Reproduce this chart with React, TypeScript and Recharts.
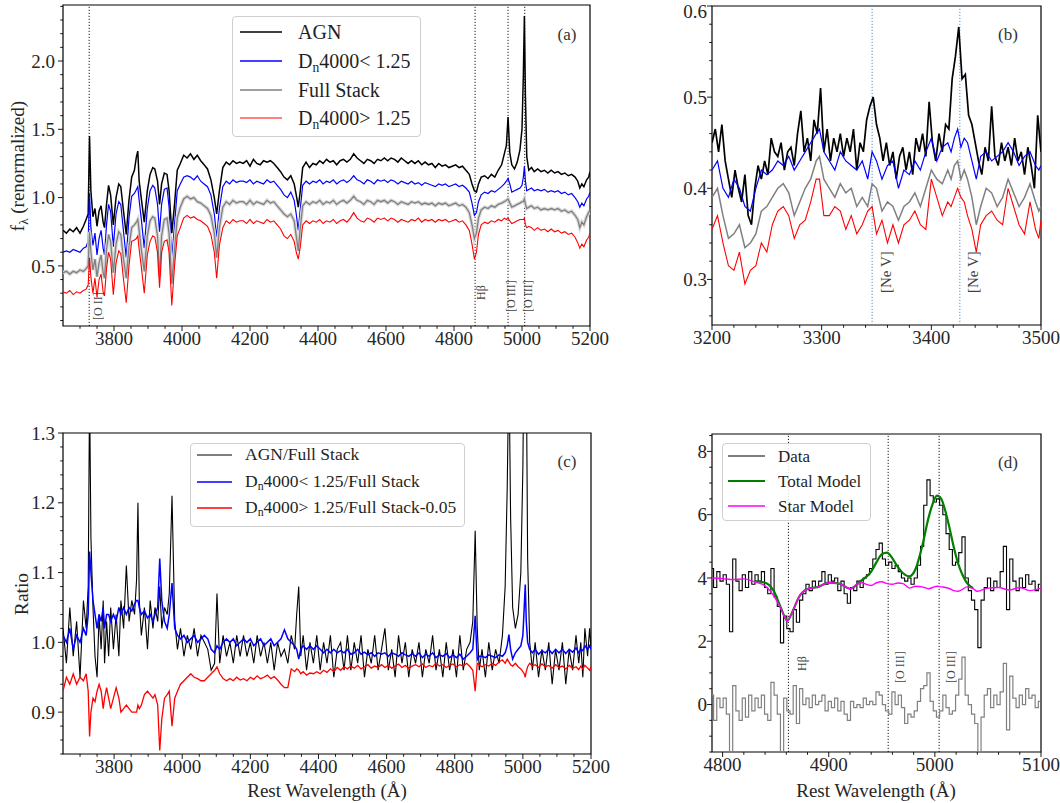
import React from 'react';
import { LineChart, Line, XAxis, YAxis, ReferenceLine, ReferenceArea, Legend } from 'recharts';

const FONT = '"Liberation Serif", "Times New Roman", serif';

// ---------- Panel (a) & (c) wavelength grid ----------
const waveA = [
  3650, 3660, 3670, 3680, 3690, 3700, 3710, 3718, 3724, 3728,
  3732, 3738, 3744, 3750, 3756, 3762, 3768, 3772, 3778, 3784,
  3790, 3798, 3806, 3814, 3820, 3828, 3836, 3844, 3852, 3860,
  3866, 3870, 3874, 3880, 3889, 3898, 3906, 3914, 3920, 3928,
  3934, 3940, 3948, 3956, 3962, 3970, 3978, 3986, 3995, 4005,
  4015, 4025, 4035, 4045, 4055, 4065, 4075, 4085, 4095, 4102,
  4110, 4120, 4130, 4140, 4150, 4160, 4170, 4180, 4190, 4200,
  4210, 4220, 4230, 4240, 4250, 4260, 4270, 4280, 4290, 4300,
  4310, 4320, 4330, 4336, 4342, 4348, 4355, 4365, 4375, 4385,
  4395, 4405, 4415, 4425, 4435, 4445, 4455, 4465, 4475, 4485,
  4495, 4505, 4515, 4525, 4535, 4545, 4555, 4565, 4575, 4585,
  4595, 4605, 4615, 4625, 4635, 4645, 4655, 4665, 4675, 4685,
  4695, 4705, 4715, 4725, 4735, 4745, 4755, 4765, 4775, 4785,
  4795, 4805, 4815, 4825, 4835, 4845, 4853, 4860, 4866, 4872,
  4880, 4890, 4900, 4910, 4920, 4930, 4940, 4948, 4954, 4959,
  4964, 4970, 4978, 4986, 4994, 5000, 5004, 5007, 5010, 5014,
  5020, 5028, 5036, 5046, 5056, 5066, 5076, 5086, 5096, 5106,
  5116, 5126, 5136, 5146, 5156, 5164, 5170, 5176, 5182, 5190,
  5196, 5200,
];

// (a) AGN stack
const agnA = [
  0.76, 0.74, 0.77, 0.75, 0.78, 0.74, 0.79, 0.84, 0.88, 1.45,
  1.05, 0.86, 0.92, 0.79, 0.90, 0.94, 0.82, 0.78, 0.95, 1.09,
  1.02, 0.80, 1.00, 1.10, 1.08, 0.90, 0.73, 0.98, 1.15, 1.20,
  1.30, 1.34, 1.12, 1.00, 0.82, 1.05, 1.17, 1.22, 1.21, 1.12,
  0.95, 1.10, 1.18, 1.17, 1.05, 0.74, 0.95, 1.20, 1.25, 1.31,
  1.29, 1.32, 1.28, 1.31, 1.27, 1.24, 1.21, 1.13, 1.00, 0.88,
  1.05, 1.22, 1.26, 1.24, 1.27, 1.25, 1.26, 1.25, 1.27, 1.23,
  1.28, 1.25, 1.24, 1.27, 1.26, 1.27, 1.25, 1.22, 1.19, 1.15,
  1.13, 1.16, 1.10, 1.02, 0.93, 1.05, 1.22, 1.26, 1.22, 1.25,
  1.24, 1.27, 1.25, 1.28, 1.26, 1.27, 1.24, 1.27, 1.28, 1.26,
  1.28, 1.32, 1.29, 1.27, 1.25, 1.28, 1.27, 1.25, 1.28, 1.27,
  1.29, 1.27, 1.29, 1.28, 1.26, 1.29, 1.27, 1.25, 1.27, 1.25,
  1.27, 1.24, 1.26, 1.24, 1.25, 1.22, 1.25, 1.23, 1.24, 1.22,
  1.23, 1.24, 1.22, 1.23, 1.20, 1.17, 1.10, 1.05, 1.04, 1.10,
  1.15, 1.16, 1.14, 1.17, 1.15, 1.20, 1.24, 1.32, 1.38, 1.59,
  1.33, 1.24, 1.21, 1.26, 1.35, 1.50, 1.90, 2.33, 1.75, 1.30,
  1.20, 1.22, 1.19, 1.21, 1.19, 1.20, 1.18, 1.20, 1.18, 1.19,
  1.17, 1.18, 1.16, 1.17, 1.15, 1.12, 1.07, 1.10, 1.08, 1.13,
  1.15, 1.19,
];

// (a) Dn4000 < 1.25
const lowA = [
  0.60, 0.61, 0.60, 0.62, 0.61, 0.60, 0.63, 0.64, 0.68, 1.03,
  0.78, 0.65, 0.74, 0.58, 0.70, 0.76, 0.63, 0.58, 0.80, 0.95,
  0.90, 0.64, 0.88, 0.97, 0.95, 0.75, 0.56, 0.85, 1.01, 1.03,
  1.06, 1.08, 0.98, 0.85, 0.63, 0.92, 1.05, 1.09, 1.07, 0.95,
  0.75, 0.95, 1.06, 1.07, 0.93, 0.55, 0.80, 1.05, 1.10, 1.15,
  1.16, 1.15, 1.13, 1.16, 1.12, 1.10, 1.08, 1.02, 0.88, 0.71,
  0.92, 1.08, 1.12, 1.10, 1.13, 1.11, 1.12, 1.12, 1.11, 1.13,
  1.10, 1.12, 1.11, 1.10, 1.13, 1.11, 1.12, 1.09, 1.06, 1.02,
  1.00, 1.04, 0.98, 0.88, 0.76, 0.92, 1.09, 1.12, 1.10, 1.12,
  1.11, 1.13, 1.10, 1.12, 1.11, 1.13, 1.10, 1.12, 1.13, 1.11,
  1.13, 1.16, 1.13, 1.12, 1.10, 1.13, 1.12, 1.10, 1.13, 1.12,
  1.13, 1.11, 1.13, 1.12, 1.10, 1.12, 1.11, 1.10, 1.12, 1.10,
  1.11, 1.09, 1.11, 1.10, 1.09, 1.08, 1.10, 1.09, 1.10, 1.08,
  1.09, 1.10, 1.08, 1.09, 1.07, 1.04, 0.96, 0.87, 0.89, 0.97,
  1.02, 1.04, 1.03, 1.05, 1.04, 1.06, 1.08, 1.10, 1.12, 1.14,
  1.10, 1.04, 1.05, 1.06, 1.07, 1.09, 1.15, 1.23, 1.12, 1.05,
  1.06, 1.07, 1.05, 1.06, 1.05, 1.06, 1.04, 1.05, 1.04, 1.05,
  1.03, 1.04, 1.02, 1.03, 1.00, 0.97, 0.93, 0.96, 0.94, 0.99,
  1.01, 1.04,
];

// (a) Full stack
const fullA = [
  0.45, 0.46, 0.44, 0.46, 0.45, 0.47, 0.46, 0.48, 0.50, 0.75,
  0.60, 0.47, 0.55, 0.42, 0.52, 0.58, 0.45, 0.41, 0.62, 0.73,
  0.68, 0.45, 0.66, 0.75, 0.73, 0.55, 0.41, 0.64, 0.78, 0.80,
  0.82, 0.84, 0.76, 0.63, 0.46, 0.72, 0.83, 0.86, 0.85, 0.72,
  0.42, 0.72, 0.84, 0.85, 0.74, 0.37, 0.62, 0.85, 0.93, 0.99,
  1.01, 0.99, 1.00, 0.97, 0.96, 0.94, 0.92, 0.87, 0.74, 0.56,
  0.78, 0.93, 0.97, 0.95, 0.98, 0.96, 0.97, 0.97, 0.95, 0.98,
  0.95, 0.97, 0.96, 0.95, 0.98, 0.96, 0.97, 0.94, 0.91, 0.88,
  0.86, 0.88, 0.83, 0.72, 0.61, 0.78, 0.94, 0.97, 0.95, 0.97,
  0.96, 0.98, 0.95, 0.97, 0.96, 0.98, 0.95, 0.97, 0.98, 0.96,
  0.98, 1.01, 0.98, 0.97, 0.95, 0.98, 0.97, 0.95, 0.98, 0.97,
  0.98, 0.96, 0.98, 0.97, 0.95, 0.97, 0.96, 0.95, 0.97, 0.96,
  0.97, 0.95, 0.96, 0.95, 0.96, 0.94, 0.96, 0.95, 0.96, 0.94,
  0.95, 0.96, 0.94, 0.95, 0.93, 0.89, 0.80, 0.70, 0.74, 0.85,
  0.91, 0.93, 0.92, 0.94, 0.93, 0.95, 0.96, 0.97, 0.98, 0.99,
  0.96, 0.93, 0.94, 0.95, 0.96, 0.97, 0.97, 0.99, 0.95, 0.92,
  0.93, 0.94, 0.92, 0.93, 0.91, 0.92, 0.91, 0.92, 0.91, 0.92,
  0.90, 0.91, 0.89, 0.90, 0.87, 0.84, 0.78, 0.82, 0.80, 0.86,
  0.89, 0.91,
];

// (a) Dn4000 > 1.25
const highA = [
  0.31, 0.30, 0.32, 0.29, 0.31, 0.30, 0.32, 0.33, 0.36, 0.56,
  0.42, 0.30, 0.41, 0.27, 0.40, 0.44, 0.31, 0.28, 0.48, 0.60,
  0.55, 0.29, 0.52, 0.61, 0.59, 0.40, 0.23, 0.50, 0.68, 0.69,
  0.70, 0.72, 0.62, 0.50, 0.30, 0.58, 0.68, 0.72, 0.71, 0.60,
  0.34, 0.60, 0.68, 0.69, 0.60, 0.21, 0.50, 0.72, 0.78, 0.85,
  0.87, 0.85, 0.86, 0.84, 0.83, 0.81, 0.79, 0.73, 0.60, 0.41,
  0.65, 0.78, 0.83, 0.81, 0.84, 0.82, 0.83, 0.83, 0.81, 0.84,
  0.81, 0.83, 0.82, 0.81, 0.84, 0.82, 0.83, 0.80, 0.77, 0.72,
  0.70, 0.73, 0.68, 0.60, 0.55, 0.64, 0.80, 0.83, 0.81, 0.83,
  0.82, 0.84, 0.81, 0.83, 0.82, 0.84, 0.81, 0.83, 0.84, 0.82,
  0.85, 0.89, 0.85, 0.83, 0.82, 0.85, 0.84, 0.82, 0.85, 0.84,
  0.85, 0.83, 0.85, 0.84, 0.82, 0.84, 0.83, 0.82, 0.84, 0.83,
  0.85, 0.82, 0.84, 0.83, 0.84, 0.82, 0.84, 0.83, 0.84, 0.82,
  0.83, 0.84, 0.82, 0.83, 0.80, 0.76, 0.66, 0.55, 0.60, 0.73,
  0.80, 0.82, 0.81, 0.83, 0.82, 0.84, 0.83, 0.85, 0.84, 0.85,
  0.83, 0.81, 0.82, 0.83, 0.84, 0.84, 0.84, 0.85, 0.80, 0.78,
  0.79, 0.78, 0.76, 0.78, 0.76, 0.77, 0.75, 0.77, 0.75, 0.76,
  0.74, 0.75, 0.73, 0.74, 0.71, 0.67, 0.63, 0.66, 0.64, 0.69,
  0.71, 0.74,
];

// (c) ratios on the same grid
const ratioAgnC = [
  1.02, 0.97, 1.05, 0.98, 1.03, 0.95, 1.06, 1.02, 1.08, 1.36,
  1.15, 1.05, 0.98, 0.95, 1.04, 0.99, 1.06, 0.97, 1.03, 0.98,
  1.05, 0.99, 1.04, 0.98, 1.06, 1.02, 1.11, 1.03, 1.06, 1.04,
  1.09, 1.20, 1.06, 1.01, 1.05, 0.99, 1.06, 1.02, 1.05, 1.03,
  1.08, 1.02, 1.05, 1.04, 1.07, 1.21, 1.03, 0.99, 1.02, 0.98,
  1.01, 0.99, 1.02, 0.98, 1.01, 1.00, 0.99, 0.96, 0.97, 1.07,
  0.97, 1.01, 0.98, 1.00, 0.97, 1.01, 0.98, 1.01, 0.98, 1.00,
  0.97, 1.01, 0.98, 1.00, 0.97, 1.00, 0.96, 1.00, 0.98, 0.99,
  0.97, 1.01, 0.99, 1.04, 1.08, 0.98, 1.01, 0.96, 1.00, 0.97,
  1.01, 0.96, 1.00, 0.97, 1.01, 0.95, 0.99, 1.00, 0.96, 1.01,
  0.96, 1.00, 0.97, 1.01, 0.95, 0.99, 0.97, 1.01, 0.96, 0.99,
  1.02, 0.96, 0.99, 0.95, 1.01, 0.97, 1.00, 0.95, 0.99, 0.97,
  1.00, 0.95, 0.99, 0.97, 1.01, 0.96, 0.99, 0.95, 1.00, 0.96,
  0.99, 0.95, 1.01, 0.96, 0.99, 1.00, 1.03, 1.16, 1.02, 0.96,
  0.99, 0.95, 1.00, 0.96, 0.99, 0.97, 1.01, 1.08, 1.22, 1.40,
  1.18, 1.05, 1.02, 1.04, 1.10, 1.25, 1.45, 1.60, 1.40, 1.12,
  1.00, 0.96, 1.00, 0.95, 0.99, 0.96, 1.00, 0.94, 0.99, 0.96,
  1.00, 0.94, 0.99, 0.96, 1.01, 0.97, 1.00, 0.95, 1.02, 0.98,
  1.02, 0.99,
];

const ratioLowC = [
  1.01, 1.00, 1.02, 0.99, 1.01, 1.00, 1.02, 1.01, 1.04, 1.13,
  1.10, 1.06, 1.04, 1.02, 1.04, 1.03, 1.05, 1.02, 1.04, 1.04,
  1.03, 1.04, 1.03, 1.05, 1.04, 1.05, 1.04, 1.05, 1.045, 1.055,
  1.06, 1.06, 1.05, 1.04, 1.045, 1.035, 1.04, 1.03, 1.04, 1.05,
  1.12, 1.06, 1.03, 1.02, 1.04, 1.085, 1.02, 1.01, 1.005, 1.01,
  1.00, 1.005, 1.01, 1.00, 1.005, 1.01, 1.005, 0.99, 0.985, 0.995,
  0.99, 1.00, 1.005, 1.00, 1.005, 0.995, 1.00, 1.005, 1.00, 1.005,
  0.995, 1.00, 1.005, 0.995, 1.00, 1.005, 0.995, 1.00, 1.005, 1.018,
  1.005, 1.00, 0.995, 0.99, 0.976, 0.99, 0.995, 0.99, 0.995, 0.99,
  0.995, 0.99, 0.985, 0.99, 0.985, 0.99, 0.985, 0.988, 0.985, 0.99,
  0.983, 0.985, 0.99, 0.983, 0.986, 0.982, 0.985, 0.98, 0.985, 0.983,
  0.985, 0.98, 0.985, 0.983, 0.98, 0.985, 0.982, 0.98, 0.984, 0.98,
  0.985, 0.978, 0.983, 0.98, 0.985, 0.978, 0.982, 0.98, 0.984, 0.978,
  0.982, 0.978, 0.983, 0.976, 0.98, 0.985, 0.99, 1.038, 0.975, 0.98,
  0.98, 0.978, 0.982, 0.98, 0.978, 0.982, 0.98, 0.985, 0.995, 1.011,
  0.99, 0.976, 0.985, 0.99, 0.995, 1.01, 1.05, 1.083, 1.03, 1.0,
  0.99, 0.985, 0.99, 0.983, 0.988, 0.985, 0.99, 0.984, 0.99, 0.985,
  0.99, 0.984, 0.99, 0.986, 0.992, 0.985, 0.99, 0.988, 0.995, 0.99,
  0.995, 0.99,
];

const ratioHighC = [
  0.93, 0.95, 0.94, 0.955, 0.94, 0.95, 0.945, 0.955, 0.93, 0.865,
  0.90, 0.92, 0.915, 0.93, 0.94, 0.93, 0.905, 0.92, 0.935, 0.92,
  0.905, 0.92, 0.935, 0.92, 0.90, 0.905, 0.91, 0.905, 0.90, 0.90,
  0.90, 0.91, 0.905, 0.91, 0.925, 0.93, 0.925, 0.92, 0.925, 0.91,
  0.845, 0.89, 0.92, 0.925, 0.93, 0.88, 0.92, 0.93, 0.94, 0.945,
  0.95, 0.955, 0.95, 0.948, 0.945, 0.945, 0.95, 0.955, 0.96, 0.965,
  0.955, 0.948, 0.945, 0.948, 0.945, 0.95, 0.946, 0.948, 0.945, 0.95,
  0.947, 0.952, 0.948, 0.95, 0.953, 0.948, 0.951, 0.946, 0.94, 0.935,
  0.935, 0.962, 0.958, 0.962, 0.96, 0.955, 0.958, 0.953, 0.956, 0.955,
  0.958, 0.955, 0.96, 0.957, 0.962, 0.958, 0.964, 0.96, 0.965, 0.962,
  0.966, 0.963, 0.967, 0.962, 0.965, 0.968, 0.963, 0.966, 0.964, 0.968,
  0.964, 0.967, 0.963, 0.966, 0.969, 0.964, 0.967, 0.963, 0.966, 0.968,
  0.965, 0.969, 0.964, 0.967, 0.965, 0.97, 0.966, 0.968, 0.964, 0.967,
  0.969, 0.965, 0.968, 0.966, 0.97, 0.965, 0.96, 0.93, 0.97, 0.968,
  0.965, 0.968, 0.966, 0.97, 0.967, 0.972, 0.975, 0.97, 0.976, 0.972,
  0.968, 0.966, 0.97, 0.965, 0.962, 0.958, 0.955, 0.95, 0.958, 0.965,
  0.97, 0.966, 0.968, 0.964, 0.969, 0.965, 0.967, 0.963, 0.968, 0.964,
  0.966, 0.962, 0.967, 0.963, 0.965, 0.961, 0.966, 0.962, 0.967, 0.963,
  0.96, 0.965,
];

// ---------- Panel (b) ----------
const waveB = [
  3200, 3205, 3210, 3215, 3220, 3225, 3230, 3235, 3240, 3245,
  3250, 3255, 3260, 3265, 3270, 3275, 3280, 3285, 3290, 3295,
  3298, 3302, 3307, 3312, 3317, 3322, 3327, 3332, 3337, 3342,
  3346, 3350, 3355, 3360, 3365, 3370, 3375, 3380, 3385, 3390,
  3395, 3400, 3405, 3410, 3415, 3418, 3421, 3424, 3427, 3430,
  3433, 3437, 3441, 3445, 3450, 3455, 3460, 3465, 3470, 3475,
  3480, 3485, 3490, 3495, 3498, 3500,
];
const lowB = [
  0.42, 0.43, 0.40, 0.39, 0.41, 0.40, 0.38, 0.375, 0.40, 0.42,
  0.415, 0.42, 0.43, 0.425, 0.435, 0.42, 0.43, 0.44, 0.45, 0.46,
  0.465, 0.44, 0.43, 0.42, 0.44, 0.43, 0.425, 0.42, 0.43, 0.41,
  0.44, 0.43, 0.41, 0.425, 0.43, 0.40, 0.42, 0.415, 0.43, 0.42,
  0.44, 0.455, 0.43, 0.445, 0.45, 0.44, 0.455, 0.465, 0.445, 0.455,
  0.45, 0.43, 0.41, 0.435, 0.44, 0.43, 0.435, 0.44, 0.45, 0.44,
  0.425, 0.435, 0.44, 0.425, 0.42, 0.425,
];
const fullB = [
  0.39, 0.40, 0.37, 0.345, 0.35, 0.36, 0.335, 0.34, 0.35, 0.375,
  0.38, 0.39, 0.40, 0.405, 0.395, 0.37, 0.385, 0.40, 0.41, 0.43,
  0.435, 0.41, 0.40, 0.39, 0.405, 0.395, 0.40, 0.38, 0.39, 0.38,
  0.405, 0.40, 0.375, 0.385, 0.38, 0.365, 0.38, 0.385, 0.395, 0.38,
  0.40, 0.42, 0.41, 0.405, 0.42, 0.41, 0.425, 0.43, 0.41, 0.42,
  0.41, 0.39, 0.36, 0.38, 0.40, 0.395, 0.38, 0.39, 0.41, 0.395,
  0.38, 0.39, 0.405, 0.385, 0.375, 0.38,
];
const highB = [
  0.355, 0.37, 0.34, 0.315, 0.31, 0.33, 0.295, 0.31, 0.315, 0.34,
  0.33, 0.36, 0.375, 0.38, 0.37, 0.345, 0.36, 0.365, 0.385, 0.41,
  0.41, 0.37, 0.37, 0.38, 0.375, 0.355, 0.37, 0.35, 0.36, 0.375,
  0.38, 0.35, 0.365, 0.34, 0.36, 0.34, 0.36, 0.365, 0.375, 0.36,
  0.355, 0.41, 0.39, 0.37, 0.385, 0.38, 0.39, 0.40, 0.39, 0.385,
  0.37, 0.355, 0.33, 0.36, 0.37, 0.375, 0.365, 0.36, 0.40, 0.38,
  0.36, 0.35, 0.385, 0.355, 0.345, 0.365,
];
// AGN in (b) is noisier: finer sampling
const waveAgnB = [
  3200, 3203, 3206, 3209, 3212, 3215, 3218, 3221, 3224, 3227,
  3230, 3233, 3236, 3239, 3242, 3245, 3248, 3251, 3254, 3257,
  3260, 3263, 3266, 3269, 3272, 3275, 3278, 3281, 3284, 3287,
  3290, 3293, 3296, 3299, 3302, 3305, 3308, 3311, 3314, 3317,
  3320, 3323, 3326, 3329, 3332, 3335, 3338, 3341, 3344, 3347,
  3350, 3353, 3356, 3359, 3362, 3365, 3368, 3371, 3374, 3377,
  3380, 3383, 3386, 3389, 3392, 3395, 3398, 3401, 3404, 3407,
  3410, 3413, 3416, 3419, 3422, 3425, 3428, 3431, 3434, 3437,
  3440, 3443, 3446, 3449, 3452, 3455, 3458, 3461, 3464, 3467,
  3470, 3473, 3476, 3479, 3482, 3485, 3488, 3491, 3494, 3497,
  3500,
];
const agnB = [
  0.45, 0.465, 0.44, 0.47, 0.43, 0.41, 0.39, 0.42, 0.40, 0.385,
  0.415, 0.37, 0.36, 0.40, 0.425, 0.41, 0.43, 0.415, 0.455, 0.44,
  0.435, 0.45, 0.42, 0.44, 0.445, 0.425, 0.46, 0.485, 0.44, 0.455,
  0.43, 0.475, 0.46, 0.51, 0.44, 0.465, 0.43, 0.455, 0.44, 0.46,
  0.435, 0.455, 0.44, 0.465, 0.42, 0.45, 0.44, 0.475, 0.49, 0.50,
  0.47, 0.455, 0.43, 0.45, 0.425, 0.44, 0.41, 0.435, 0.445, 0.42,
  0.44, 0.415, 0.455, 0.44, 0.46, 0.435, 0.495, 0.45, 0.43, 0.46,
  0.44, 0.47, 0.465, 0.52, 0.545, 0.577, 0.52, 0.525, 0.48, 0.47,
  0.45, 0.43, 0.415, 0.445, 0.43, 0.49, 0.435, 0.425, 0.45, 0.43,
  0.445, 0.425, 0.455, 0.43, 0.44, 0.415, 0.445, 0.425, 0.40, 0.48,
  0.44,
];

// ---------- Panel (d) ----------
const waveD = [
  4790, 4793, 4796, 4799, 4802, 4805, 4808, 4811, 4814, 4817,
  4820, 4823, 4826, 4829, 4832, 4835, 4838, 4841, 4844, 4847,
  4850, 4853, 4856, 4859, 4862, 4865, 4868, 4871, 4874, 4877,
  4880, 4883, 4886, 4889, 4892, 4895, 4898, 4901, 4904, 4907,
  4910, 4913, 4916, 4919, 4922, 4925, 4928, 4931, 4934, 4937,
  4940, 4943, 4946, 4949, 4952, 4955, 4958, 4961, 4964, 4967,
  4970, 4973, 4976, 4979, 4982, 4985, 4988, 4991, 4994, 4997,
  5000, 5003, 5006, 5009, 5012, 5015, 5018, 5021, 5024, 5027,
  5030, 5033, 5036, 5039, 5042, 5045, 5048, 5051, 5054, 5057,
  5060, 5063, 5066, 5069, 5072, 5075, 5078, 5081, 5084, 5087,
  5090, 5093, 5096, 5099,
];
const fluxD = [
  4.3, 3.7, 4.2, 3.9, 4.1, 3.8, 2.3, 4.6, 3.9, 3.6,
  4.1, 3.7, 4.2, 3.8, 4.1, 3.9, 4.2, 3.7, 3.5, 4.3,
  3.4, 3.1, 1.95, 2.8, 2.4, 2.3, 3.0, 2.6, 3.3, 3.5,
  3.8, 3.6, 3.9, 3.7, 3.9, 4.2, 3.8, 4.1, 3.9, 4.0,
  3.6, 3.9, 3.5, 3.2, 3.7, 3.6, 3.9, 3.7, 4.0, 4.1,
  4.3, 4.6, 4.9, 5.1, 4.6, 4.4, 4.5, 4.3, 4.4, 4.2,
  4.0, 3.9, 4.0, 3.8, 4.0, 4.4, 5.0, 6.3, 7.1, 6.6,
  6.4, 6.5, 6.3, 6.0, 5.4, 4.9, 4.4, 4.5, 4.8, 5.3,
  4.0, 3.6, 3.3, 3.0, 1.8, 3.3, 3.7, 4.0, 3.6, 3.9,
  3.7, 4.2, 5.0, 3.0, 4.6, 3.9, 3.6, 4.0, 3.7, 4.1,
  3.8, 3.9, 3.6, 3.8,
];
const residD = [
  0.3, -0.5, 0.2, -0.1, 0.2, -0.3, -1.6, 0.6, -0.2, -0.5,
  0.2, -0.4, 0.3, -0.2, 0.2, -0.1, 0.3, -0.3, -0.5, 0.7,
  0.3, -0.3, -1.6, 0.2, -0.2, -0.3, 0.6, -0.6, 0.5, 0.0,
  0.2, -0.1, 0.3, 0.0, 0.1, 0.3, -0.2, 0.1, -0.1, 0.2,
  -0.2, 0.1, -0.3, -0.5, 0.1, -0.1, 0.0, -0.1, 0.2, 0.0,
  0.1, 0.0, 0.4, 0.3, 0.0, -0.2, -0.3, 0.4, 0.0, 0.3,
  -0.1, -0.6, -0.3, -0.4, -0.2, 0.1, 0.5, 0.6, 1.0, 0.1,
  -0.2, -0.4, -0.2, 0.3, -0.1, -0.3, -0.2, 0.3, 0.8, 1.5,
  0.3, 0.0, -0.3, -0.6, -1.6, -0.4, 0.3, 0.5, -0.1, 0.3,
  0.0, 0.4, 1.3, -0.8, 0.9, 0.2, -0.1, 0.3, 0.0, 0.5,
  0.2, 0.3, -0.1, 0.1,
];
const waveModelD = [
  4790, 4800, 4810, 4820, 4830, 4840, 4848, 4855, 4861, 4866,
  4872, 4880, 4890, 4900, 4910, 4920, 4930, 4940, 4945, 4950,
  4955, 4960, 4965, 4970, 4976, 4982, 4988, 4994, 4998, 5002,
  5006, 5010, 5014, 5018, 5022, 5026, 5030, 5036, 5040, 5050,
  5060, 5070, 5080, 5090, 5100,
];
const totalD = [
  null, null, null, null, 3.9, 3.85, 3.6, 3.05, 2.65, 2.95,
  3.4, 3.65, 3.72, 3.85, 3.82, 3.66, 3.9, 4.2, 4.5, 4.75,
  4.8, 4.62, 4.35, 4.15, 4.05, 4.3, 5.0, 5.9, 6.35, 6.6,
  6.5, 6.1, 5.55, 4.95, 4.45, 4.1, 3.85, 3.68, null, null,
  null, null, null, null, null,
];
const starD = [
  4.0, 3.98, 3.95, 3.97, 3.88, 3.75, 3.45, 3.02, 2.65, 2.95,
  3.4, 3.65, 3.72, 3.85, 3.82, 3.66, 3.85, 3.76, 3.85, 3.88,
  3.82, 3.8, 3.84, 3.82, 3.68, 3.74, 3.72, 3.66, 3.7, 3.74,
  3.72, 3.7, 3.66, 3.6, 3.58, 3.64, 3.72, 3.66, 3.58, 3.68,
  3.7, 3.62, 3.7, 3.6, 3.68,
];

// ---------- Ticks ----------
const xTicksA = [3700, 3750, 3800, 3850, 3900, 3950, 4000, 4050, 4100, 4150, 4200, 4250, 4300, 4350, 4400, 4450, 4500, 4550, 4600, 4650, 4700, 4750, 4800, 4850, 4900, 4950, 5000, 5050, 5100, 5150, 5200];
const xMajorA = [3800, 4000, 4200, 4400, 4600, 4800, 5000, 5200];
const yTicksA = [0.1, 0.2, 0.3, 0.4, 0.5, 0.6, 0.7, 0.8, 0.9, 1.0, 1.1, 1.2, 1.3, 1.4, 1.5, 1.6, 1.7, 1.8, 1.9, 2.0, 2.1, 2.2, 2.3, 2.4];
const yMajorA = [0.5, 1.0, 1.5, 2.0];
const xTicksB = [3200, 3220, 3240, 3260, 3280, 3300, 3320, 3340, 3360, 3380, 3400, 3420, 3440, 3460, 3480, 3500];
const xMajorB = [3200, 3300, 3400, 3500];
const yTicksB = [0.26, 0.28, 0.3, 0.32, 0.34, 0.36, 0.38, 0.4, 0.42, 0.44, 0.46, 0.48, 0.5, 0.52, 0.54, 0.56, 0.58, 0.6];
const yMajorB = [0.3, 0.4, 0.5, 0.6];
const yTicksC = [0.84, 0.86, 0.88, 0.9, 0.92, 0.94, 0.96, 0.98, 1.0, 1.02, 1.04, 1.06, 1.08, 1.1, 1.12, 1.14, 1.16, 1.18, 1.2, 1.22, 1.24, 1.26, 1.28, 1.3];
const yMajorC = [0.9, 1.0, 1.1, 1.2, 1.3];
const xTicksD = [4800, 4820, 4840, 4860, 4880, 4900, 4920, 4940, 4960, 4980, 5000, 5020, 5040, 5060, 5080, 5100];
const xMajorD = [4800, 4900, 5000, 5100];
const yTicksD = [-1.5, -1, -0.5, 0, 0.5, 1, 1.5, 2, 2.5, 3, 3.5, 4, 4.5, 5, 5.5, 6, 6.5, 7, 7.5, 8, 8.5];
const yMajorD = [0, 2, 4, 6, 8];

// ---------- chart tables ----------
const tableA = waveA.map((w, i) => ({ w, agn: agnA[i], low: lowA[i], full: fullA[i], high: highA[i], rAgn: ratioAgnC[i], rLow: ratioLowC[i], rHigh: ratioHighC[i] }));
const tableB = waveB.map((w, i) => ({ w, low: lowB[i], full: fullB[i], high: highB[i] }));
const tableAgnB = waveAgnB.map((w, i) => ({ w, agn: agnB[i] }));
const tableD = waveD.map((w, i) => ({ w, flux: fluxD[i], resid: residD[i] }));
const tableModelD = waveModelD.map((w, i) => ({ w, total: totalD[i], star: starD[i] }));

const isMajor = (majors: number[], v: number) => majors.some((m) => Math.abs(m - v) < 1e-6);

function makeYTick(majors: number[], fmt: (v: number) => string, gap: number, minTextY = -1000) {
  return (props: any) => {
    const { x, y, payload } = props;
    const v = Number(payload.value);
    const maj = isMajor(majors, v);
    return (
      <g>
        <line x1={x} x2={x - (maj ? 5 : 2.8)} y1={y} y2={y} stroke="#000" strokeWidth={0.9} />
        {maj ? (
          <text x={x - gap} y={Math.max(y, minTextY)} dy="0.35em" textAnchor="end" fontSize={19} fontFamily={FONT} fill="#262626">{fmt(v)}</text>
        ) : null}
      </g>
    );
  };
}
function makeXTick(majors: number[]) {
  return (props: any) => {
    const { x, y, payload } = props;
    const v = Number(payload.value);
    const maj = isMajor(majors, v);
    return (
      <g>
        <line x1={x} x2={x} y1={y} y2={y + (maj ? 5 : 2.8)} stroke="#000" strokeWidth={0.9} />
        {maj ? (
          <text x={x} y={y + 6} dy="0.71em" textAnchor="middle" fontSize={19} fontFamily={FONT} fill="#262626">{String(v)}</text>
        ) : null}
      </g>
    );
  };
}

const Dn = () => (
  <>D<span style={{ fontSize: '0.68em', position: 'relative', top: '0.28em' }}>n</span></>
);

type LegItem = { color: string; width: number; label: React.ReactNode };
function LegendBox(p: { items: LegItem[]; w: number; h: number; rows: number[]; x1: number; x2: number; tx: number; fs: number }) {
  return (
    <div style={{ position: 'relative', width: p.w, height: p.h, boxSizing: 'border-box', border: '1px solid #cfcfcf', borderRadius: 4, background: 'rgba(255,255,255,0.85)', fontFamily: FONT, color: '#1f1f1f' }}>
      <svg width={p.w} height={p.h} style={{ position: 'absolute', left: -1, top: -1 }}>
        {p.items.map((it, i) => (
          <line key={i} x1={p.x1} x2={p.x2} y1={p.rows[i]} y2={p.rows[i]} stroke={it.color} strokeWidth={it.width} />
        ))}
      </svg>
      {p.items.map((it, i) => (
        <div key={i} style={{ position: 'absolute', left: p.tx - 1, top: p.rows[i] - 1, transform: 'translateY(-50%)', fontSize: p.fs, lineHeight: 1, whiteSpace: 'nowrap' }}>{it.label}</div>
      ))}
    </div>
  );
}

const legendA: LegItem[] = [
  { color: '#000000', width: 1.5, label: 'AGN' },
  { color: '#0000ff', width: 1.3, label: <><Dn />4000&lt; 1.25</> },
  { color: '#808080', width: 1.5, label: 'Full Stack' },
  { color: '#ff0000', width: 1.2, label: <><Dn />4000&gt; 1.25</> },
];
const legendC: LegItem[] = [
  { color: '#000000', width: 1.2, label: 'AGN/Full Stack' },
  { color: '#0000ff', width: 1.5, label: <><Dn />4000&lt; 1.25/Full Stack</> },
  { color: '#ff0000', width: 1.3, label: <><Dn />4000&gt; 1.25/Full Stack-0.05</> },
];
const legendD: LegItem[] = [
  { color: '#000000', width: 1.1, label: 'Data' },
  { color: '#008000', width: 2.2, label: 'Total Model' },
  { color: '#ff00ff', width: 1.4, label: 'Star Model' },
];

const DOT = '1.2 1.8';

export default function App() {
  const axisCommon = { tickSize: 0, tickMargin: 0, axisLine: false, tickLine: false, interval: 0 as const, allowDataOverflow: true, type: 'number' as const };
  return (
    <div style={{ position: 'absolute', left: 0, top: 0, width: 1060, height: 803, background: '#fff', fontFamily: FONT }}>
      {/* Panel (a) */}
      <div style={{ position: 'absolute', left: 0, top: 0 }}>
        <LineChart width={630} height={400} data={tableA} margin={{ top: 5, right: 40, left: 13, bottom: 44 }}>
          <XAxis dataKey="w" {...axisCommon} domain={[3650, 5200]} ticks={xTicksA} tick={makeXTick(xMajorA)} height={30} />
          <YAxis {...axisCommon} domain={[0.06, 2.41]} ticks={yTicksA} tick={makeYTick(yMajorA, (v) => v.toFixed(1), 8)} width={50} />
          <ReferenceLine x={3727} stroke="#000" strokeWidth={0.9} strokeDasharray={DOT} />
          <ReferenceLine x={4862} stroke="#000" strokeWidth={0.9} strokeDasharray={DOT} />
          <ReferenceLine x={4959} stroke="#000" strokeWidth={0.9} strokeDasharray={DOT} />
          <ReferenceLine x={5008} stroke="#000" strokeWidth={0.9} strokeDasharray={DOT} />
          <Line dataKey="agn" stroke="#000000" strokeWidth={1.5} dot={false} isAnimationActive={false} type="linear" />
          <Line dataKey="low" stroke="#0000ff" strokeWidth={1.2} dot={false} isAnimationActive={false} type="linear" />
          <Line dataKey="full" stroke="#d9d9d9" strokeWidth={3.6} dot={false} isAnimationActive={false} type="linear" legendType="none" />
          <Line dataKey="full" stroke="#808080" strokeWidth={1.3} dot={false} isAnimationActive={false} type="linear" />
          <Line dataKey="high" stroke="#ff0000" strokeWidth={1.1} dot={false} isAnimationActive={false} type="linear" />
          <ReferenceArea x1={3650} x2={5200} y1={0.06} y2={2.41} fill="none" stroke="#000" strokeWidth={1.2} />
          <Legend layout="horizontal" verticalAlign="middle" align="center" wrapperStyle={{ left: 232, top: 16, width: 189, height: 121 }}
            content={() => <LegendBox items={legendA} w={189} h={121} rows={[16, 45, 74, 102]} x1={8} x2={50} tx={66} fs={20} />} />
        </LineChart>
      </div>

      {/* Panel (b) */}
      <div style={{ position: 'absolute', left: 640, top: 0 }}>
        <LineChart width={420} height={400} data={tableB} margin={{ top: 6, right: 19, left: 22, bottom: 45 }}>
          <XAxis dataKey="w" {...axisCommon} domain={[3200, 3500]} ticks={xTicksB} tick={makeXTick(xMajorB)} height={30} />
          <YAxis {...axisCommon} domain={[0.25, 0.6]} ticks={yTicksB} tick={makeYTick(yMajorB, (v) => v.toFixed(1), 5, 11)} width={50} />
          <ReferenceLine x={3346} stroke="#5b8fc9" strokeWidth={1} strokeDasharray={DOT} />
          <ReferenceLine x={3426} stroke="#5b8fc9" strokeWidth={1} strokeDasharray={DOT} />
          <Line data={tableAgnB} dataKey="agn" stroke="#000000" strokeWidth={1.7} dot={false} isAnimationActive={false} type="linear" />
          <Line dataKey="low" stroke="#0000ff" strokeWidth={1.2} dot={false} isAnimationActive={false} type="linear" />
          <Line dataKey="full" stroke="#808080" strokeWidth={1.5} dot={false} isAnimationActive={false} type="linear" />
          <Line dataKey="high" stroke="#ff0000" strokeWidth={1.1} dot={false} isAnimationActive={false} type="linear" />
          <ReferenceArea x1={3200} x2={3500} y1={0.25} y2={0.6} fill="none" stroke="#000" strokeWidth={1.2} />
        </LineChart>
      </div>

      {/* Panel (c) */}
      <div style={{ position: 'absolute', left: 0, top: 400 }}>
        <LineChart width={630} height={403} data={tableA} margin={{ top: 33, right: 39, left: 13, bottom: 19 }}>
          <XAxis dataKey="w" {...axisCommon} domain={[3650, 5200]} ticks={xTicksA} tick={makeXTick(xMajorA)} height={30} />
          <YAxis {...axisCommon} domain={[0.84, 1.3]} ticks={yTicksC} tick={makeYTick(yMajorC, (v) => v.toFixed(1), 8)} width={50} />
          <Line dataKey="rAgn" stroke="#000000" strokeWidth={1.1} dot={false} isAnimationActive={false} type="linear" />
          <Line dataKey="rLow" stroke="#0000ff" strokeWidth={1.5} dot={false} isAnimationActive={false} type="linear" />
          <Line dataKey="rHigh" stroke="#ff0000" strokeWidth={1.3} dot={false} isAnimationActive={false} type="linear" />
          <ReferenceArea x1={3650} x2={5200} y1={0.84} y2={1.3} fill="none" stroke="#000" strokeWidth={1.2} />
          <Legend layout="horizontal" verticalAlign="middle" align="center" wrapperStyle={{ left: 190, top: 43, width: 275, height: 84 }}
            content={() => <LegendBox items={legendC} w={275} h={84} rows={[12, 39, 65]} x1={7} x2={42} tx={55} fs={17.5} />} />
        </LineChart>
      </div>

      {/* Panel (d) */}
      <div style={{ position: 'absolute', left: 640, top: 400 }}>
        <LineChart width={420} height={403} data={tableD} margin={{ top: 34, right: 19, left: 22, bottom: 21 }}>
          <XAxis dataKey="w" {...axisCommon} domain={[4790, 5100]} ticks={xTicksD} tick={makeXTick(xMajorD)} height={30} />
          <YAxis {...axisCommon} domain={[-1.5, 8.55]} ticks={yTicksD} tick={makeYTick(yMajorD, (v) => String(v), 5)} width={50} />
          <ReferenceLine x={4862} stroke="#000" strokeWidth={0.9} strokeDasharray={DOT} />
          <ReferenceLine x={4956} stroke="#000" strokeWidth={0.9} strokeDasharray={DOT} />
          <ReferenceLine x={5004} stroke="#000" strokeWidth={0.9} strokeDasharray={DOT} />
          <Line dataKey="flux" stroke="#000000" strokeWidth={1.1} dot={false} isAnimationActive={false} type="step" />
          <Line dataKey="resid" stroke="#808080" strokeWidth={1.2} dot={false} isAnimationActive={false} type="step" />
          <Line data={tableModelD} dataKey="total" stroke="#008000" strokeWidth={2.2} dot={false} isAnimationActive={false} type="monotone" />
          <Line data={tableModelD} dataKey="star" stroke="#ff00ff" strokeWidth={1.4} dot={false} isAnimationActive={false} type="monotone" />
          <ReferenceArea x1={4790} x2={5100} y1={-1.5} y2={8.55} fill="none" stroke="#000" strokeWidth={1.2} />
          <Legend layout="horizontal" verticalAlign="middle" align="center" wrapperStyle={{ left: 82, top: 43, width: 149, height: 78 }}
            content={() => <LegendBox items={legendD} w={149} h={78} rows={[13, 38, 63]} x1={6} x2={43} tx={56} fs={17} />} />
        </LineChart>
      </div>

      {/* Text overlay: axis titles, panel tags, line identifications */}
      <svg width={1060} height={803} style={{ position: 'absolute', left: 0, top: 0, pointerEvents: 'none' }} fontFamily={FONT}>
        <text x={24} y={166} transform="rotate(-90 24 166)" textAnchor="middle" fontSize={19} fill="#262626">
          f<tspan dy={4} fontSize={13}>λ</tspan><tspan dy={-4}> (renormalized)</tspan>
        </text>
        <text x={28} y={594} transform="rotate(-90 28 594)" textAnchor="middle" fontSize={19.5} fill="#262626">Ratio</text>
        <text x={327} y={797} textAnchor="middle" fontSize={19} fill="#262626">Rest Wavelength (Å)</text>
        <text x={876} y={797} textAnchor="middle" fontSize={19} fill="#262626">Rest Wavelength (Å)</text>

        <text x={567} y={40} textAnchor="middle" fontSize={17} fill="#333">(a)</text>
        <text x={1008} y={40} textAnchor="middle" fontSize={17} fill="#333">(b)</text>
        <text x={567} y={467} textAnchor="middle" fontSize={17} fill="#333">(c)</text>
        <text x={1008} y={468} textAnchor="middle" fontSize={17} fill="#333">(d)</text>

        <text x={102} y={320} transform="rotate(-90 102 320)" fontSize={12} fill="#444">[O II]</text>
        <text x={485} y={300} transform="rotate(-90 485 300)" fontSize={12} fill="#444">Hβ</text>
        <text x={515} y={312} transform="rotate(-90 515 312)" fontSize={12} fill="#444">[O III]</text>
        <text x={532} y={312} transform="rotate(-90 532 312)" fontSize={12} fill="#444">[O III]</text>

        <text x={891} y={293} transform="rotate(-90 891 293)" fontSize={15} fill="#444">[Ne V]</text>
        <text x={978} y={293} transform="rotate(-90 978 293)" fontSize={15} fill="#444">[Ne V]</text>

        <text x={806} y={671} transform="rotate(-90 806 671)" fontSize={12} fill="#444">Hβ</text>
        <text x={904} y={683} transform="rotate(-90 904 683)" fontSize={12} fill="#444">[O III]</text>
        <text x={955} y={683} transform="rotate(-90 955 683)" fontSize={12} fill="#444">[O III]</text>
      </svg>
    </div>
  );
}
